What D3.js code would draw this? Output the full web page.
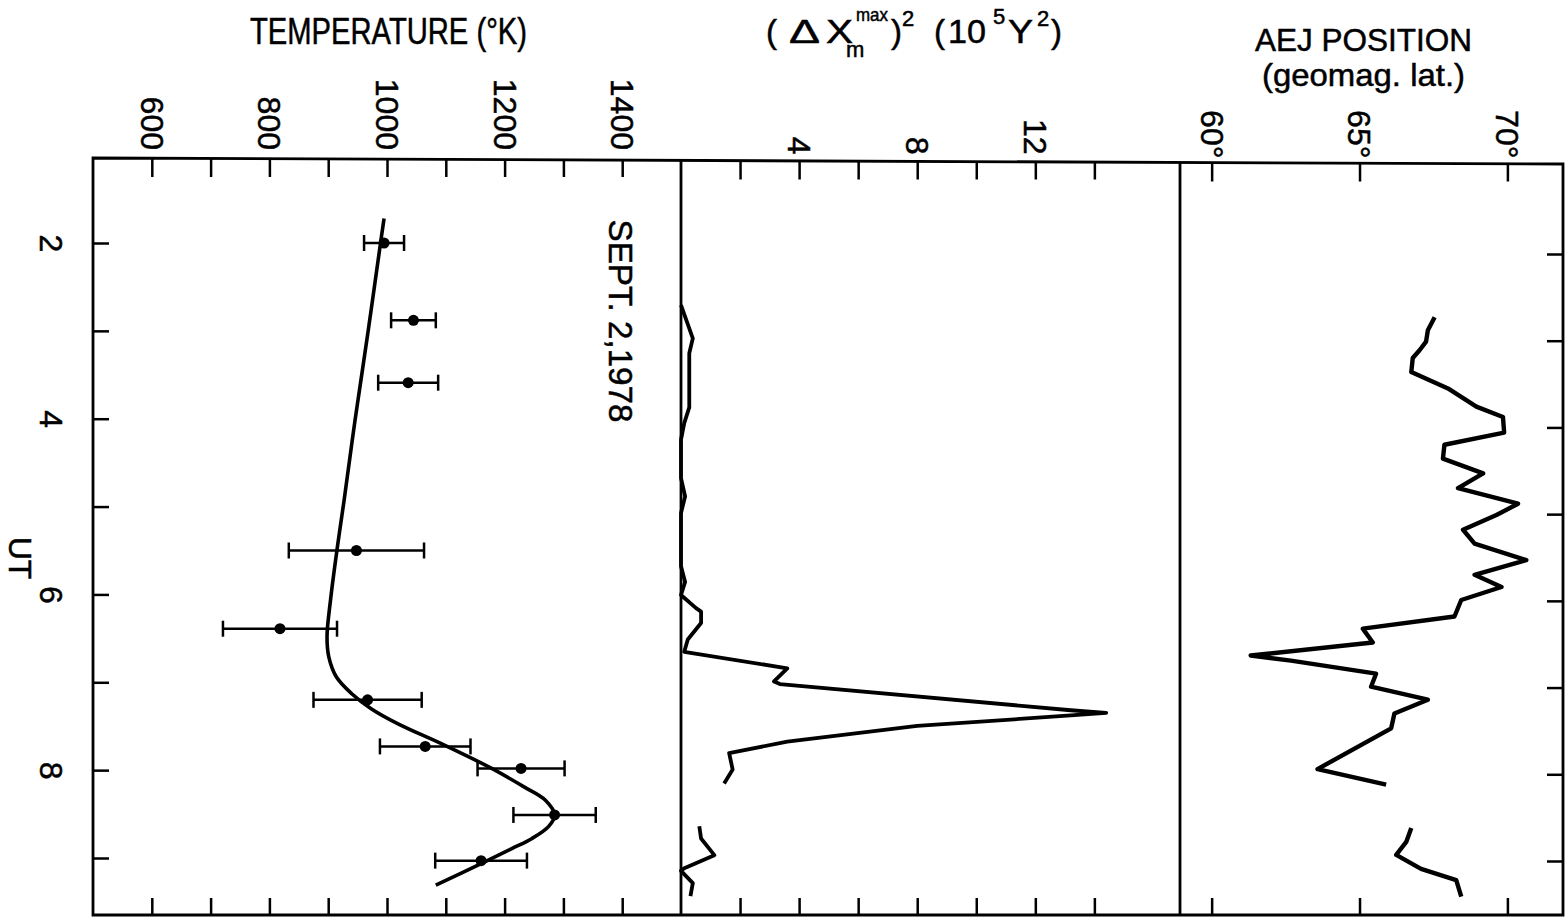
<!DOCTYPE html>
<html>
<head>
<meta charset="utf-8">
<script src="https://cdn.jsdelivr.net/npm/d3@7"></script>
<style>
  body { margin: 0; background: #fff; }
  text { stroke: #000; stroke-width: 0.5px; fill: #000; }
</style>
</head>
<body>
<script>
var w = 1567, h = 918;

// temperature measurements (UT hours, deg K, half-width of error bar)
var tempUT  = [2.0, 2.88, 3.59, 5.50, 6.39, 7.20, 7.73, 7.98, 8.51, 9.03];
var tempK   = [995, 1045, 1036, 948, 818, 967, 1065, 1228, 1285, 1160];
var tempErr = [34, 38, 51, 115, 97, 92, 77, 74, 70, 78];

// smooth fitted temperature curve
var fitUT = [1.72, 2.0, 3.0, 4.0, 4.93, 5.49, 6.06, 6.48, 6.71, 6.94, 7.13, 7.30,
             7.47, 7.71, 7.98, 8.19, 8.34, 8.51, 8.64, 8.78, 8.89, 9.06, 9.31];
var fitK  = [995, 989, 968, 946, 927, 915, 904, 898, 901, 914, 940, 973,
             1018, 1096, 1178, 1233, 1269, 1285, 1275, 1246, 1213, 1161, 1083];

// (dX max)^2 in 10^5 gamma^2, null = gap in the record
var jetUT  = [2.65, 3.03, 3.20, 3.82, 4.00, 4.19, 4.63, 4.84, 5.03, 5.64, 5.82, 5.97,
              6.12, 6.16, 6.29, 6.48, 6.62, 6.81, 6.96, 6.99, 7.29, 7.32, 7.35, 7.47,
              7.65, 7.78, 7.97, 8.13, 8.4, 8.62, 8.76, 8.95, 9.10, 9.13, 9.27, 9.42];
var jetVal = [0, 0.4, 0.28, 0.28, 0.11, 0, 0, 0.14, 0, 0, 0.14, 0,
              0.51, 0.68, 0.68, 0.23, 0.11, 3.6, 3.15, 3.35, 13.2, 14.4, 13.2, 8.0,
              3.6, 1.63, 1.75, 1.46, null, 0.62, 0.68, 1.13, 0.11, 0, 0.4, 0.32];

// electrojet position, geomagnetic latitude
var aejUT  = [2.73, 2.88, 3.01, 3.11, 3.20, 3.36, 3.55, 3.76, 3.88, 4.06, 4.20, 4.36,
              4.53, 4.70, 4.88, 5.01, 5.18, 5.34, 5.53, 5.70, 5.84, 5.99, 6.18, 6.32,
              6.48, 6.63, 6.69, 6.84, 6.99, 7.14, 7.30, 7.47, 7.94, 8.12, 8.4,
              8.62, 8.78, 8.93, 9.09, 9.22, 9.41];
var aejLat = [67.54, 67.31, 67.25, 67.03, 66.80, 66.75, 67.99, 68.95, 69.85, 69.89, 67.87, 67.82,
              69.18, 68.33, 70.36, 69.63, 68.50, 68.89, 70.64, 68.89, 69.80, 68.44, 68.21, 65.11,
              65.45, 61.32, 62.68, 65.56, 65.39, 67.31, 66.18, 66.07, 63.58, 65.90, null,
              66.75, 66.58, 66.24, 67.08, 68.27, 68.44];

// tick values and labels
var utTicks    = [2, 3, 4, 5, 6, 7, 8, 9];
var utLabels   = [2, 4, 6, 8];
var tempTicks  = [600, 700, 800, 900, 1000, 1100, 1200, 1300, 1400];
var tempLabels = [600, 800, 1000, 1200, 1400];
var jetTicks   = [2, 4, 6, 8, 10, 12, 14];
var jetLabels  = [4, 8, 12];
var aejTicks   = [60, 65, 70];

var font = "'Liberation Sans', Arial, sans-serif";
var frameBot = 915;

var svg = d3.select("body")
  .append("svg")
  .attr("width", w)
  .attr("height", h)
  .style("background-color", "#fff");

// x scales (one per panel)
var xTemp = d3.scaleLinear().domain([500, 1500]).range([93, 681]);
var xJet  = d3.scaleLinear().domain([0, 16.9]).range([681, 1180]);
var xAej  = d3.scaleLinear().domain([58.93, 71.88]).range([1180, 1563]);

// UT runs downward; the scanned page is a little skewed, so each panel gets its own
var yTemp = d3.scaleLinear().domain([2, 9]).range([243, 858]);
var yJet  = d3.scaleLinear().domain([2, 9]).range([248.5, 859.5]);
var yAej  = d3.scaleLinear().domain([2, 9]).range([254, 861]);

// frame (top edge slopes slightly, like the scan) and panel dividers
svg.append("path")
  .attr("d", "M93,158 L1563,164 L1563," + frameBot + " L93," + frameBot + " Z")
  .style("fill", "none").style("stroke", "#000").style("stroke-width", 2.8);
[[681, 160.4], [1180, 162.4]].forEach(function(p){
  svg.append("line")
    .attr("x1", p[0]).attr("x2", p[0]).attr("y1", p[1]).attr("y2", frameBot)
    .style("stroke", "#000").style("stroke-width", 2.8);
});

function styleAxis(g){
  g.select(".domain").remove();
  g.selectAll("line").style("stroke", "#000").style("stroke-width", 2.5);
  g.attr("font-family", font).attr("font-size", 32);
}

// top axes with rotated labels
function topAxis(scale, ticks, labels, fmt, y0, gap){
  var ax = d3.axisTop(scale).tickValues(ticks).tickSize(-18)
    .tickFormat(function(d){ return labels.indexOf(d) >= 0 ? fmt(d) : ""; });
  var g = svg.append("g").attr("transform", "translate(0," + y0 + ")").call(ax);
  styleAxis(g);
  g.selectAll("text")
    .attr("y", null).attr("x", null)
    .attr("dy", "0.36em")
    .attr("text-anchor", "end")
    .attr("transform", "translate(0," + (-gap) + ") rotate(90)");
}
topAxis(xTemp, tempTicks, tempLabels, function(d){ return d; }, 159, 9);
topAxis(xJet, jetTicks, jetLabels, function(d){ return d; }, 161.5, 7);
topAxis(xAej, aejTicks, aejTicks, function(d){ return d + "°"; }, 163.5, 5);

// bottom axes, ticks only
function bottomAxis(scale, ticks){
  var g = svg.append("g").attr("transform", "translate(0," + frameBot + ")")
    .call(d3.axisBottom(scale).tickValues(ticks).tickSize(-17).tickFormat(""));
  styleAxis(g);
}
bottomAxis(xTemp, tempTicks);
bottomAxis(xJet, jetTicks);
bottomAxis(xAej, aejTicks);

// UT axis on the left of the temperature panel
var leftG = svg.append("g").attr("transform", "translate(93,0)")
  .call(d3.axisLeft(yTemp).tickValues(utTicks).tickSize(-16)
    .tickFormat(function(d){ return utLabels.indexOf(d) >= 0 ? d : ""; }));
styleAxis(leftG);
leftG.selectAll("text")
  .attr("x", null).attr("dy", "0.36em")
  .attr("text-anchor", "middle")
  .attr("transform", "translate(-41,0) rotate(90)");

// UT ticks on the right of the AEJ panel
var rightG = svg.append("g").attr("transform", "translate(1563,0)")
  .call(d3.axisRight(yAej).tickValues(utTicks).tickSize(-16).tickFormat(""));
styleAxis(rightG);

svg.append("text")
  .attr("transform", "translate(21,558) rotate(90)")
  .attr("text-anchor", "middle").attr("dy", "0.36em")
  .attr("font-family", font).attr("font-size", 32)
  .text("UT");

// titles
svg.append("text")
  .attr("x", 250).attr("y", 44)
  .attr("font-family", font).attr("font-size", 36)
  .attr("textLength", 277).attr("lengthAdjust", "spacingAndGlyphs")
  .text("TEMPERATURE (°K)");

svg.append("text")
  .attr("x", 1255).attr("y", 51)
  .attr("font-family", font).attr("font-size", 32)
  .attr("textLength", 217).attr("lengthAdjust", "spacingAndGlyphs")
  .text("AEJ POSITION");
svg.append("text")
  .attr("x", 1262).attr("y", 86)
  .attr("font-family", font).attr("font-size", 32)
  .attr("textLength", 203).attr("lengthAdjust", "spacingAndGlyphs")
  .text("(geomag. lat.)");

// middle title built from pieces: (dX_m^max)^2 (10^5 gamma^2)
function piece(t, x, y, size, len){
  var el = svg.append("text")
    .attr("x", x).attr("y", y)
    .attr("font-family", font).attr("font-size", size)
    .text(t);
  if (len) el.attr("textLength", len).attr("lengthAdjust", "spacingAndGlyphs");
}
piece("(", 766, 43, 33);
piece("Δ", 789, 43, 34, 31);
piece("X", 826, 43, 33, 27);
piece("max", 856, 21, 19, 32);
piece("m", 846, 57, 22);
piece(")", 891, 43, 33);
piece("2", 902, 26, 22);
piece("(", 934, 43, 33);
piece("10", 948, 43, 33, 38);
piece("5", 993, 24, 22);
piece("Y", 1008, 43, 33, 25);
piece("2", 1037, 26, 22);
piece(")", 1051, 43, 33);

svg.append("text")
  .attr("transform", "translate(621,321) rotate(90)")
  .attr("text-anchor", "middle").attr("dy", "0.36em")
  .attr("font-family", font).attr("font-size", 33)
  .attr("textLength", 203).attr("lengthAdjust", "spacingAndGlyphs")
  .text("SEPT. 2,1978");

// temperature fit curve
var fit = fitUT.map(function(u, i){ return {u: u, v: fitK[i]}; });
svg.append("path")
  .datum(fit)
  .attr("d", d3.line()
    .x(function(d){ return xTemp(d.v); })
    .y(function(d){ return yTemp(d.u); })
    .curve(d3.curveCatmullRom.alpha(0.5)))
  .style("fill", "none").style("stroke", "#000").style("stroke-width", 3.6);

// measurements with error bars
var meas = tempUT.map(function(u, i){ return {u: u, v: tempK[i], e: tempErr[i]}; });
var bars = svg.selectAll(".errbar").data(meas).enter().append("g").attr("class", "errbar");
bars.append("line")
  .attr("x1", function(d){ return xTemp(d.v - d.e); })
  .attr("x2", function(d){ return xTemp(d.v + d.e); })
  .attr("y1", function(d){ return yTemp(d.u); })
  .attr("y2", function(d){ return yTemp(d.u); });
[-1, 1].forEach(function(s){
  bars.append("line")
    .attr("x1", function(d){ return xTemp(d.v + s * d.e); })
    .attr("x2", function(d){ return xTemp(d.v + s * d.e); })
    .attr("y1", function(d){ return yTemp(d.u) - 8; })
    .attr("y2", function(d){ return yTemp(d.u) + 8; });
});
bars.selectAll("line").style("stroke", "#000").style("stroke-width", 2.5);
bars.append("circle")
  .attr("cx", function(d){ return xTemp(d.v); })
  .attr("cy", function(d){ return yTemp(d.u); })
  .attr("r", 5.5)
  .style("fill", "#000");

// (dX)^2 trace
var jet = jetUT.map(function(u, i){ return {u: u, v: jetVal[i]}; });
svg.append("path")
  .datum(jet)
  .attr("d", d3.line()
    .defined(function(d){ return d.v !== null; })
    .x(function(d){ return xJet(d.v); })
    .y(function(d){ return yJet(d.u); }))
  .style("fill", "none").style("stroke", "#000")
  .style("stroke-width", 3.8).style("stroke-linejoin", "round");

// AEJ position trace
var aej = aejUT.map(function(u, i){ return {u: u, v: aejLat[i]}; });
svg.append("path")
  .datum(aej)
  .attr("d", d3.line()
    .defined(function(d){ return d.v !== null; })
    .x(function(d){ return xAej(d.v); })
    .y(function(d){ return yAej(d.u); }))
  .style("fill", "none").style("stroke", "#000")
  .style("stroke-width", 4.4).style("stroke-linejoin", "round");
</script>
</body>
</html>
